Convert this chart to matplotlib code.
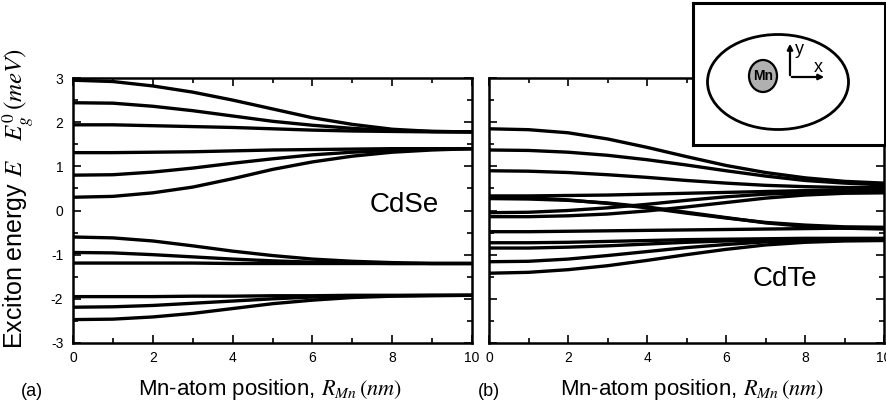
import matplotlib
matplotlib.use("Agg")
import matplotlib.pyplot as plt
from matplotlib.patches import Ellipse
from matplotlib.ticker import MultipleLocator

plt.rcParams['font.family'] = ['Liberation Sans', 'DejaVu Sans']
plt.rcParams['mathtext.fontset'] = 'stix'
plt.rcParams['axes.unicode_minus'] = False

# Mn-atom position R_Mn (nm)
r_mn = [0, 1, 2, 3, 4, 5, 6, 7, 8, 9, 10]

# (a) CdSe exciton energies (meV)
cdse_lines = [
    [2.95, 2.92, 2.82, 2.68, 2.50, 2.30, 2.10, 1.95, 1.84, 1.79, 1.78],
    [2.44, 2.43, 2.36, 2.26, 2.14, 2.02, 1.93, 1.86, 1.81, 1.79, 1.78],
    [1.94, 1.94, 1.92, 1.90, 1.88, 1.85, 1.82, 1.80, 1.79, 1.78, 1.78],
    [1.31, 1.31, 1.32, 1.33, 1.35, 1.37, 1.38, 1.39, 1.40, 1.40, 1.40],
    [0.80, 0.81, 0.87, 0.96, 1.07, 1.17, 1.26, 1.32, 1.36, 1.39, 1.40],
    [0.30, 0.32, 0.40, 0.53, 0.72, 0.93, 1.10, 1.23, 1.32, 1.37, 1.40],
    [-0.60, -0.62, -0.69, -0.80, -0.92, -1.02, -1.10, -1.15, -1.18, -1.20, -1.20],
    [-0.95, -0.96, -1.00, -1.05, -1.10, -1.14, -1.17, -1.19, -1.20, -1.20, -1.20],
    [-1.19, -1.19, -1.19, -1.19, -1.20, -1.20, -1.20, -1.20, -1.20, -1.20, -1.20],
    [-1.95, -1.95, -1.95, -1.94, -1.94, -1.93, -1.93, -1.92, -1.92, -1.92, -1.92],
    [-2.19, -2.18, -2.15, -2.10, -2.05, -2.00, -1.96, -1.94, -1.93, -1.92, -1.92],
    [-2.47, -2.46, -2.41, -2.33, -2.22, -2.11, -2.03, -1.97, -1.94, -1.93, -1.92],
]

# (b) CdTe exciton energies (meV)
cdte_lines = [
    [1.85, 1.83, 1.76, 1.62, 1.43, 1.22, 1.02, 0.86, 0.74, 0.66, 0.62],
    [1.37, 1.36, 1.32, 1.25, 1.15, 1.03, 0.90, 0.78, 0.68, 0.62, 0.58],
    [0.90, 0.89, 0.86, 0.81, 0.75, 0.68, 0.62, 0.57, 0.54, 0.52, 0.52],
    [0.33, 0.33, 0.34, 0.35, 0.37, 0.39, 0.41, 0.43, 0.45, 0.46, 0.47],
    [0.30, 0.29, 0.24, 0.16, 0.06, -0.06, -0.17, -0.27, -0.33, -0.37, -0.38],
    [0.27, 0.26, 0.23, 0.17, 0.08, -0.04, -0.16, -0.28, -0.36, -0.40, -0.42],
    [-0.05, -0.04, 0.00, 0.06, 0.14, 0.23, 0.31, 0.37, 0.40, 0.42, 0.43],
    [-0.14, -0.14, -0.12, -0.08, -0.01, 0.08, 0.18, 0.28, 0.35, 0.39, 0.40],
    [-0.48, -0.48, -0.47, -0.46, -0.45, -0.44, -0.43, -0.42, -0.41, -0.40, -0.40],
    [-0.73, -0.73, -0.72, -0.70, -0.68, -0.66, -0.65, -0.64, -0.63, -0.63, -0.63],
    [-0.85, -0.85, -0.83, -0.80, -0.76, -0.72, -0.69, -0.67, -0.66, -0.65, -0.65],
    [-1.16, -1.15, -1.10, -1.02, -0.93, -0.84, -0.77, -0.71, -0.68, -0.66, -0.66],
    [-1.42, -1.40, -1.34, -1.25, -1.13, -1.00, -0.88, -0.78, -0.72, -0.69, -0.68],
]

x_ticks = [0, 2, 4, 6, 8, 10]
y_ticks = [-3, -2, -1, 0, 1, 2, 3]

W, H = 887, 413
fig = plt.figure(figsize=(W / 100, H / 100), dpi=100)


def frac(x0, y0, x1, y1):
    return [x0 / W, 1 - y1 / H, (x1 - x0) / W, (y1 - y0) / H]


ax1 = fig.add_axes(frac(73, 78, 472, 343))
ax2 = fig.add_axes(frac(489, 78, 884, 343))

for ax, lines in ((ax1, cdse_lines), (ax2, cdte_lines)):
    for ys in lines:
        ax.plot(r_mn, ys, color='black', lw=2.4, solid_capstyle='round')
    ax.set_xlim(0, 10)
    ax.set_ylim(-3, 3)
    ax.set_xticks(x_ticks)
    ax.set_yticks(y_ticks)
    ax.xaxis.set_minor_locator(MultipleLocator(1))
    ax.yaxis.set_minor_locator(MultipleLocator(0.5))
    ax.tick_params(which='both', direction='in', top=True, right=True,
                   labelsize=10, width=1.2)
    ax.tick_params(which='major', length=6)
    ax.tick_params(which='minor', length=3.5)
    ax.tick_params(axis='y', pad=7)
    ax.tick_params(axis='x', pad=6)
    for sp in ax.spines.values():
        sp.set_linewidth(1.8)

ax2.tick_params(labelleft=False)

ax1.text(0.83, 0.52, 'CdSe', transform=ax1.transAxes, fontsize=20,
         ha='center', va='center')
ax2.text(0.75, 0.24, 'CdTe', transform=ax2.transAxes, fontsize=20,
         ha='center', va='center')

fig.text(18 / W, 1 - 198 / H, r'Exciton energy $E$   $E^0_g\,(meV)$',
         rotation=90, ha='center', va='center', fontsize=18)
fig.text(270 / W, 1 - 390 / H, r'Mn-atom position, $R_{Mn}\,(nm)$',
         ha='center', va='center', fontsize=16)
fig.text(692 / W, 1 - 390 / H, r'Mn-atom position, $R_{Mn}\,(nm)$',
         ha='center', va='center', fontsize=16)
fig.text(32 / W, 1 - 392 / H, '(a)', ha='center', va='center', fontsize=13)
fig.text(489 / W, 1 - 392 / H, '(b)', ha='center', va='center', fontsize=13)

# inset schematic
ins = fig.add_axes(frac(693, 3, 885, 145))
ins.set_xlim(0, 192)
ins.set_ylim(0, 142)
ins.set_xticks([])
ins.set_yticks([])
ins.set_facecolor('white')
for sp in ins.spines.values():
    sp.set_linewidth(2.2)
ins.add_patch(Ellipse((85, 63), 141, 95, fill=False, lw=2.0, ec='black'))
ins.add_patch(Ellipse((70, 69), 28, 32, fc='#b0b0b0', ec='black', lw=1.6))
ins.text(70, 69, 'Mn', ha='center', va='center', fontsize=10,
         fontweight='bold')
ins.annotate('', xy=(97, 104), xytext=(97, 67),
             arrowprops=dict(arrowstyle='-|>', lw=1.6, color='black',
                             mutation_scale=8))
ins.annotate('', xy=(134, 68), xytext=(96, 68),
             arrowprops=dict(arrowstyle='-|>', lw=1.6, color='black',
                             mutation_scale=8))
ins.text(102, 96, 'y', ha='left', va='center', fontsize=13)
ins.text(121, 77, 'x', ha='left', va='center', fontsize=13)

fig.savefig('out.png', dpi=100)
